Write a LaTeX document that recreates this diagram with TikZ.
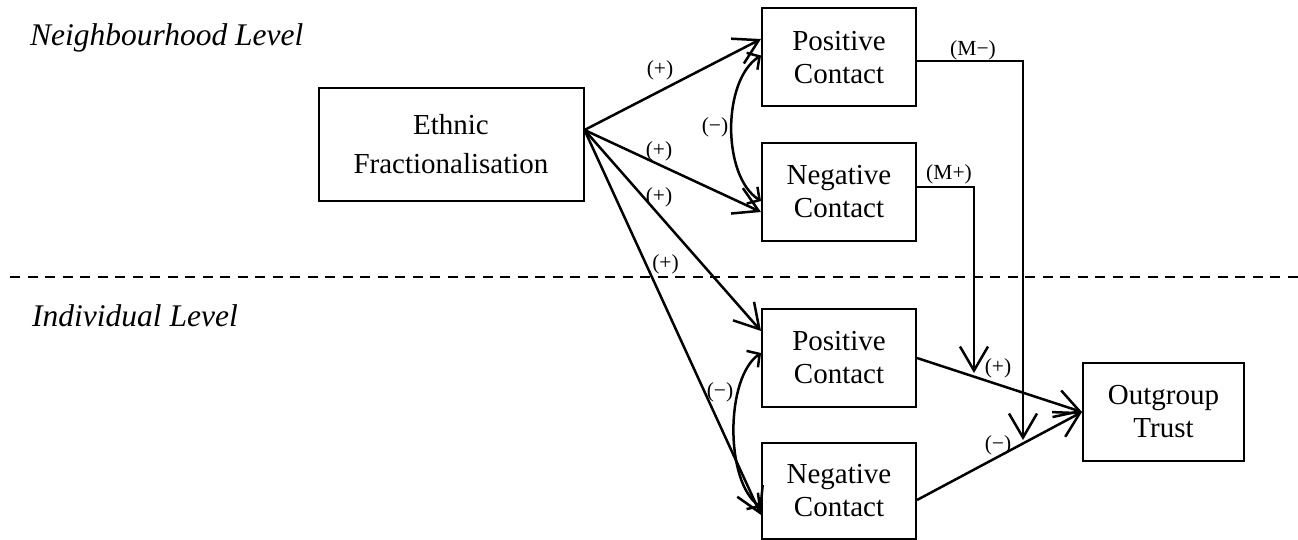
\documentclass[tikz,border=0pt]{standalone}
\usepackage{fontspec}
\setmainfont{Liberation Serif}
\usetikzlibrary{arrows.meta}
\begin{document}
\begin{tikzpicture}[x=1pt,y=-1pt,
  box/.style={draw,line width=2pt,inner sep=0pt,align=center,
    font=\fontsize{29}{33}\selectfont,minimum width=154pt,minimum height=98pt},
  lbl/.style={font=\fontsize{21.5}{24}\selectfont,inner sep=0pt},
  lvl/.style={font=\fontsize{31.5}{36}\selectfont\itshape,inner sep=0pt,anchor=base west},
  arr/.style={line width=2.5pt,-{Straight Barb[length=24pt,width=28pt]}},
  curv/.style={line width=2.5pt,{Straight Barb[length=9pt,width=20pt]}-{Straight Barb[length=9pt,width=20pt]}},
  dashline/.style={line width=2pt,dash pattern=on 10pt off 7.5pt}
  ]
\useasboundingbox (0,0) rectangle (1298,540);

% level labels and divider
\node[lvl] (NL) at (30,46) {Neighbourhood Level};
\node[lvl] (IL) at (32,326) {Individual Level};
\coordinate (dl) at (10,277);
\coordinate (dr) at (1298,277);
\draw[dashline] (dl) -- (dr);

% boxes
\node[box,minimum width=265pt,minimum height=113pt,font=\fontsize{29}{39}\selectfont] (EF) at (451,144.5) {Ethnic\\Fractionalisation};
\node[box] (PC1) at (839,57.5) {Positive\\Contact};
\node[box] (NC1) at (839,192) {Negative\\Contact};
\node[box] (PC2) at (839,358) {Positive\\Contact};
\node[box,minimum height=96pt] (NC2) at (839,491) {Negative\\Contact};
\node[box,minimum width=161pt] (OT) at (1163.5,412) {Outgroup\\Trust};

% arrows from ethnic fractionalisation
\coordinate (src) at ([yshift=14.5pt]EF.east);
\draw[arr] (src) -- ([yshift=18.5pt]PC1.west);
\draw[arr] (src) -- ([yshift=-20pt]NC1.west);
\draw[arr] (src) -- ([yshift=27pt]PC2.west);
\draw[arr] (src) -- ([yshift=-24pt]NC2.west);

% correlations
\draw[curv] ([yshift=2pt]PC1.west) .. controls +(-39,25) and +(-39,-25) .. ([yshift=-9pt]NC1.west);
\draw[curv] ([yshift=5pt]PC2.west) .. controls +(-36,25) and +(-36,-25) .. ([yshift=-16pt]NC2.west);

% to outgroup trust
\draw[arr] (PC2.east) -- (OT.west);
\draw[arr] ([yshift=-9pt]NC2.east) -- (OT.west);

% moderation
\coordinate (mpTip) at (974,373);
\coordinate (mmTip) at (1023,440);
\draw[arr] ([yshift=5pt]NC1.east) -| (mpTip);
\draw[arr] ([yshift=-3.5pt]PC1.east) -| (mmTip);

% labels
\node[lbl] (l1) at (660,70) {(+)};
\node[lbl] (l2) at (659,151) {(+)};
\node[lbl] (l3) at (659,197) {(+)};
\node[lbl] (l4) at (665.5,264) {(+)};
\node[lbl] (c1) at (715,127) {(−)};
\node[lbl] (c2) at (720,392) {(−)};
\node[lbl] (mm) at (973,50) {(M−)};
\node[lbl] (mp) at (949,174) {(M+)};
\node[lbl] (p5) at (998,368) {(+)};
\node[lbl] (n5) at (998,445) {(−)};
\end{tikzpicture}
\end{document}
